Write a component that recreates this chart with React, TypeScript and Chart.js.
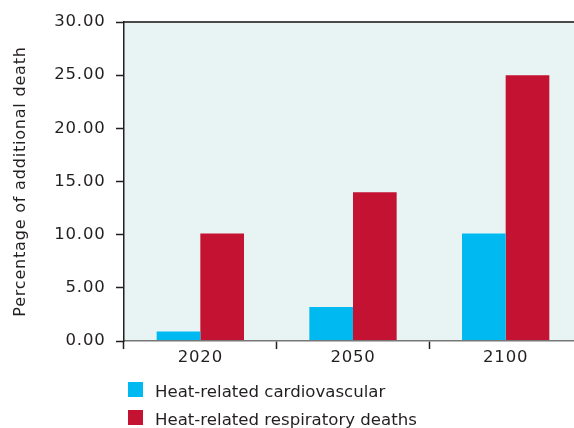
import React, { useEffect, useRef } from 'react';
import { Chart, registerables } from 'chart.js';

Chart.register(...registerables);

// ---- data ----
const categories = ['2020', '2050', '2100'];
const cardiovascular = [0.9, 3.2, 10.1];
const respiratory = [10.1, 14.0, 25.0];
const seriesLabels = ['Heat-related cardiovascular', 'Heat-related respiratory deaths'];
const seriesColors = ['#00b9f1', '#c41233'];
const yTitle = 'Percentage of additional death';
const yMin = 0;
const yMax = 30;
const yStep = 5;

// ---- style ----
const TEXT = '#231f20';
const FONT = "'DejaVu Sans', Verdana, sans-serif";
const PLOT_BG = '#e8f4f4';
const SPACING = '0.8px';

const decorPlugin = {
  id: 'decor',
  beforeUpdate(chart: any) {
    chart.ctx.letterSpacing = SPACING;
  },
  beforeLayout(chart: any) {
    chart.ctx.letterSpacing = SPACING;
  },
  beforeDraw(chart: any) {
    const { ctx, chartArea } = chart;
    ctx.letterSpacing = SPACING;
    ctx.save();
    ctx.fillStyle = PLOT_BG;
    ctx.fillRect(chartArea.left, chartArea.top, chart.width - chartArea.left, chartArea.bottom - chartArea.top);
    ctx.restore();
  },
  afterDatasetsDraw(chart: any) {
    const { ctx, chartArea } = chart;
    ctx.save();
    ctx.strokeStyle = '#4a4a4a';
    ctx.lineWidth = 2;
    ctx.beginPath();
    ctx.moveTo(chartArea.left, chartArea.top);
    ctx.lineTo(chart.width, chartArea.top);
    ctx.stroke();
    ctx.restore();
  },
  afterDraw(chart: any) {
    const { ctx, chartArea } = chart;
    ctx.save();
    ctx.letterSpacing = '0px';
    ctx.font = `16.6px ${FONT}`;
    ctx.textBaseline = 'alphabetic';
    ctx.textAlign = 'left';
    chart.data.datasets.forEach((ds: any, i: number) => {
      const y = chartArea.bottom + 41 + i * 28;
      ctx.fillStyle = ds.backgroundColor;
      ctx.fillRect(chartArea.left + 4, y, 15, 15);
      ctx.fillStyle = TEXT;
      ctx.fillText(ds.label, chartArea.left + 31, y + 14.7);
    });
    ctx.restore();
  },
};

export default function App() {
  const canvasRef = useRef<HTMLCanvasElement | null>(null);

  useEffect(() => {
    document.body.style.margin = '0';
    const canvas = canvasRef.current;
    if (!canvas) return;
    const chart = new Chart(canvas, {
      type: 'bar',
      data: {
        labels: categories,
        datasets: [
          {
            label: seriesLabels[0],
            data: cardiovascular,
            backgroundColor: seriesColors[0],
            borderWidth: 0,
            barPercentage: 1,
            categoryPercentage: 0.572,
          },
          {
            label: seriesLabels[1],
            data: respiratory,
            backgroundColor: seriesColors[1],
            borderWidth: 0,
            barPercentage: 1,
            categoryPercentage: 0.572,
          },
        ],
      },
      options: {
        responsive: false,
        animation: false,
        devicePixelRatio: 1,
        layout: { padding: { top: 22, left: 0, right: 8, bottom: 57 } },
        plugins: {
          legend: { display: false },
          tooltip: { enabled: false },
        },
        scales: {
          x: {
            offset: true,
            grid: {
              offset: true,
              drawOnChartArea: false,
              drawTicks: true,
              tickLength: 8,
              tickColor: TEXT,
              tickWidth: 1.5,
            },
            border: { display: true, color: '#777777', width: 1.5, z: 1 },
            ticks: {
              color: TEXT,
              padding: 0,
              font: { family: FONT, size: 16.5, lineHeight: 1.1 },
            },
            afterFit: (s: any) => {
              s.height = 30;
            },
          },
          y: {
            min: yMin,
            max: yMax,
            grid: {
              drawOnChartArea: false,
              drawTicks: true,
              tickLength: 8,
              tickColor: TEXT,
              tickWidth: 1.5,
            },
            border: { display: true, color: TEXT, width: 1.5, z: 1 },
            ticks: {
              stepSize: yStep,
              color: TEXT,
              padding: 10.5,
              font: { family: FONT, size: 16.5 },
              callback: (v: any) => Number(v).toFixed(2),
            },
            title: {
              display: true,
              text: yTitle,
              color: TEXT,
              padding: { top: 11.5, bottom: 0 },
              font: { family: FONT, size: 16 },
            },
            afterFit: (s: any) => {
              s.width = 124;
            },
          },
        },
      },
      plugins: [decorPlugin],
    } as any);
    return () => chart.destroy();
  }, []);

  return (
    <div style={{ width: 574, height: 428, overflow: 'hidden', position: 'relative' }}>
      <canvas ref={canvasRef} width={590} height={428} style={{ display: 'block' }} />
    </div>
  );
}
